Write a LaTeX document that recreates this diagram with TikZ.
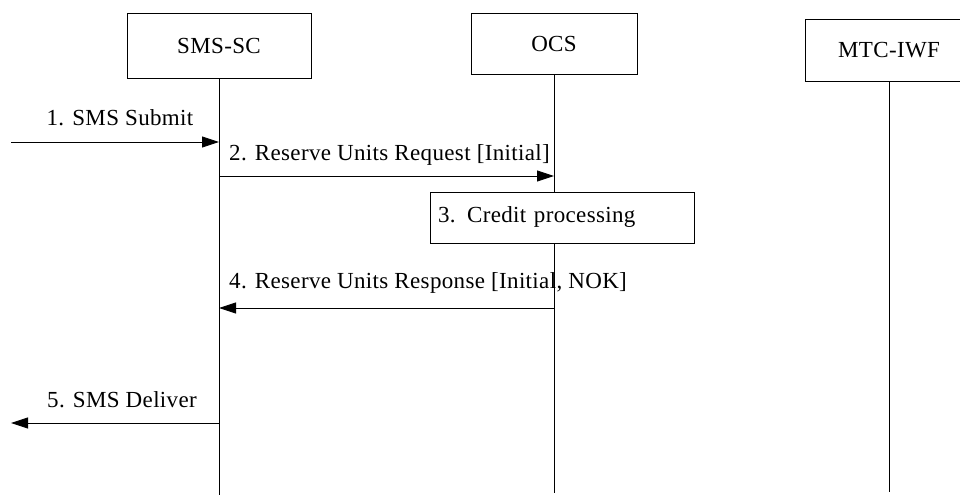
\documentclass[tikz,border=0pt]{standalone}
\usepackage{fontspec}
\setmainfont{Liberation Serif}[LetterSpace=1.5]
\usetikzlibrary{positioning,arrows.meta,calc}

\begin{document}
\begin{tikzpicture}[
    x=1pt, y=-1pt,
    font=\fontsize{23}{27}\selectfont,
    ent/.style={draw, line width=0.9pt, minimum width=184pt, minimum height=65pt, inner sep=0pt},
    life/.style={line width=0.9pt},
    msg/.style={-{Triangle[length=17pt,width=11pt]}, line width=0.9pt},
    lbl/.style={inner sep=0pt}
  ]
  \useasboundingbox (0,0) rectangle (960,500);
  % entities
  \node[ent] (sc) at (219,45.5) {SMS-SC};
  \node[ent, minimum width=166pt, minimum height=61pt] (ocs) at (554,43.5) {OCS};
  \node[ent, minimum width=168pt, minimum height=62pt] (iwf) at (889,50) {MTC-IWF};
  % lifelines
  \coordinate (scend) at (219,495);
  \coordinate (ocsend) at (554,493);
  \coordinate (iwfend) at (889,492);
  \draw[life] (sc) -- (scend);
  \draw[life] (ocs) -- (ocsend);
  \draw[life] (iwf) -- (iwfend);
  % 1
  \coordinate (in1) at (11,142);
  \coordinate (sc1) at (219,142);
  \draw[msg] (in1) -- (sc1);
  \node[lbl] (m1) at (120,118) {1. SMS Submit};
  % 2
  \coordinate (sc2) at (219,176);
  \coordinate (ocs2) at (554,176);
  \draw[msg] (sc2) -- (ocs2);
  \node[lbl, anchor=west] (m2) at (229,155) {2. Reserve Units Request [Initial]};
  % 3
  \node[draw, fill=white, line width=0.9pt, minimum height=51pt, text width=248pt, inner xsep=8pt, align=left] (cp) at (562,217.5) {3. Credit processing};
  % 4
  \coordinate (ocs4) at (554,308);
  \coordinate (sc4) at (219,308);
  \draw[msg] (ocs4) -- (sc4);
  \node[lbl, anchor=west] (m4) at (229,283) {4. Reserve Units Response [Initial, NOK]};
  % 5
  \coordinate (sc5) at (219,423);
  \coordinate (out5) at (11,423);
  \draw[msg] (sc5) -- (out5);
  \node[lbl, anchor=east] (m5) at (197,400) {5. SMS Deliver};
\end{tikzpicture}
\end{document}
